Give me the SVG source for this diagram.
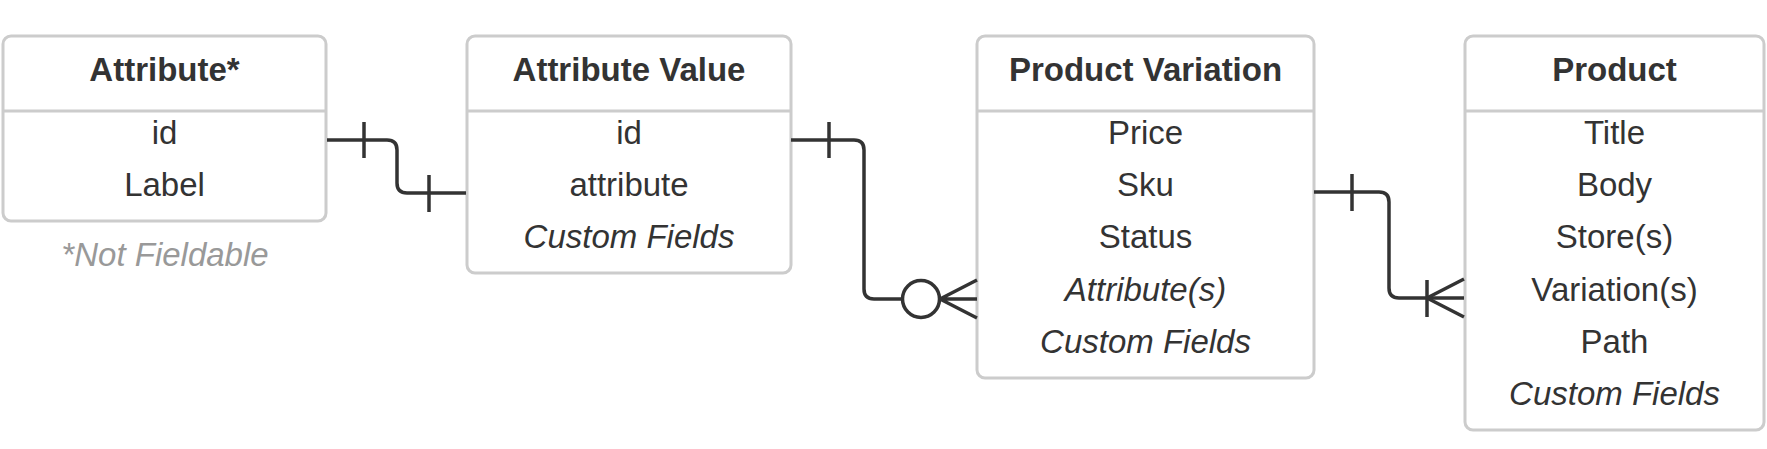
<svg xmlns="http://www.w3.org/2000/svg" width="1767" height="449" viewBox="0 0 1767 449">
<style>
.box{fill:#ffffff;stroke:#cccccc;stroke-width:3}
.div{stroke:#cccccc;stroke-width:3}
.t{font-family:"Liberation Sans",Arial,sans-serif;font-size:33px;fill:#333333;text-anchor:middle}
.h{font-weight:bold}
.i{font-style:italic}
.note{fill:#999999}
.ln{fill:none;stroke:#333333;stroke-width:3.5}
</style>
<rect width="1767" height="449" fill="#ffffff"/>
<g id="attribute">
<rect class="box" x="3" y="36" width="323" height="185" rx="8"/>
<line class="div" x1="3" y1="111" x2="326" y2="111"/>
<text class="t h" x="164.5" y="81">Attribute*</text>
<text class="t" x="164.5" y="144">id</text>
<text class="t" x="164.5" y="196">Label</text>
<text class="t i note" x="165" y="266">*Not Fieldable</text>
</g>
<g id="attribute-value">
<rect class="box" x="467" y="36" width="324" height="237" rx="8"/>
<line class="div" x1="467" y1="111" x2="791" y2="111"/>
<text class="t h" x="629" y="81">Attribute Value</text>
<text class="t" x="629" y="144">id</text>
<text class="t" x="629" y="196">attribute</text>
<text class="t i" x="629" y="248">Custom Fields</text>
</g>
<g id="product-variation">
<rect class="box" x="977" y="36" width="337" height="342" rx="8"/>
<line class="div" x1="977" y1="111" x2="1314" y2="111"/>
<text class="t h" x="1145.5" y="81">Product Variation</text>
<text class="t" x="1145.5" y="144">Price</text>
<text class="t" x="1145.5" y="196">Sku</text>
<text class="t" x="1145.5" y="248">Status</text>
<text class="t i" x="1145.5" y="301">Attribute(s)</text>
<text class="t i" x="1145.5" y="353">Custom Fields</text>
</g>
<g id="product">
<rect class="box" x="1465" y="36" width="299" height="394" rx="8"/>
<line class="div" x1="1465" y1="111" x2="1764" y2="111"/>
<text class="t h" x="1614.5" y="81">Product</text>
<text class="t" x="1614.5" y="144">Title</text>
<text class="t" x="1614.5" y="196">Body</text>
<text class="t" x="1614.5" y="248">Store(s)</text>
<text class="t" x="1614.5" y="301">Variation(s)</text>
<text class="t" x="1614.5" y="353">Path</text>
<text class="t i" x="1614.5" y="405">Custom Fields</text>
</g>
<g id="connectors">
<g id="c1">
<path class="ln" d="M327,140 H387 Q397,140 397,150 V183 Q397,193 407,193 H466"/>
<line class="ln" x1="364" y1="122" x2="364" y2="158"/>
<line class="ln" x1="429" y1="175" x2="429" y2="212"/>
</g>
<g id="c2">
<path class="ln" d="M791,140 H854 Q864,140 864,150 V289 Q864,299 874,299 H902"/>
<line class="ln" x1="829" y1="122" x2="829" y2="158"/>
<circle class="ln" cx="921" cy="299" r="18.5"/>
<path class="ln" d="M940,299 L977,280 M940,299 H977 M940,299 L977,318"/>
</g>
<g id="c3">
<path class="ln" d="M1314,192 H1379 Q1389,192 1389,202 V288 Q1389,298 1399,298 H1464"/>
<line class="ln" x1="1352" y1="174" x2="1352" y2="211"/>
<line class="ln" x1="1427" y1="280" x2="1427" y2="317"/>
<path class="ln" d="M1427,298 L1464,279 M1427,298 L1464,317"/>
</g>
</g>
</svg>
